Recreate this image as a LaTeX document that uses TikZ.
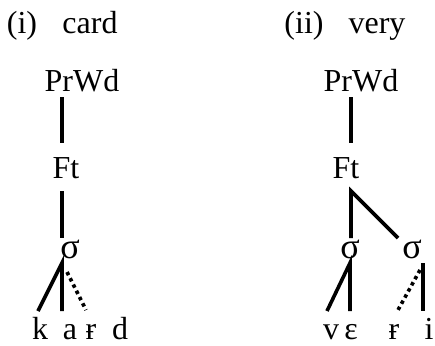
\documentclass[tikz,border=0pt]{standalone}
\usepackage{fontspec}
\setmainfont{Liberation Serif}
\begin{document}
\begin{tikzpicture}[x=1pt,y=-1pt,
  lbl/.style={anchor=base,inner sep=0pt,font=\fontsize{32}{38}\selectfont},
  sig/.style={anchor=base,inner sep=0pt,font=\fontsize{36}{40}\selectfont},
  br/.style={line width=3.6pt},
  dt/.style={line width=3.6pt,dash pattern=on 3.5pt off 3.5pt}]
\useasboundingbox (0,0) rectangle (435,345);
% ---- left tree (i) card
\node[lbl] (numA) at (22,34) {(i)};
\node[lbl] (wordA) at (90,34) {card};
\node[lbl] (prA) at (82,91) {PrWd};
\node[lbl] (ftA) at (66,178) {Ft};
\node[sig] (sgA) at (70,258) {σ};
\node[lbl] (kA) at (40,339) {k};
\node[lbl] (aA) at (70,339) {a};
\node[lbl] (rA) at (91,339) {ɍ};
\node[lbl] (dA) at (120,339) {d};
\coordinate (prAb) at (62,97);
\coordinate (ftAt) at (62,143);
\coordinate (ftAb) at (62,191);
\coordinate (sgAt) at (62,238);
\coordinate (sgAb) at (62,263);
\coordinate (kAt) at (38,311);
\coordinate (aAt) at (62,311);
\coordinate (rAs) at (67,272);
\coordinate (rAt) at (86,310);
\draw[br] (prAb) -- (ftAt);
\draw[br] (ftAb) -- (sgAt);
\draw[br] (kAt) -- (sgAb) -- (aAt);
\draw[dt] (rAs) -- (rAt);
% ---- right tree (ii) very
\node[lbl] (numB) at (304,34) {(ii)};
\node[lbl] (wordB) at (377,34) {very};
\node[lbl] (prB) at (361,91) {PrWd};
\node[lbl] (ftB) at (346,178) {Ft};
\node[sig] (sgB) at (350,258) {σ};
\node[sig] (sgC) at (412,258) {σ};
\node[lbl] (vB) at (331,339) {v};
\node[lbl] (eB) at (351,339) {ɛ};
\node[lbl] (rB) at (394,339) {ɍ};
\node[lbl] (iB) at (429,339) {i};
\coordinate (prBb) at (351,97);
\coordinate (ftBt) at (351,143);
\coordinate (ftBb) at (351,191);
\coordinate (sgBt) at (351,238);
\coordinate (sgCt) at (398,238);
\coordinate (sgBb) at (350,263);
\coordinate (vBt) at (327,311);
\coordinate (eBt) at (350,311);
\coordinate (sgCb) at (423,263);
\coordinate (iBt) at (423,311);
\coordinate (rBs) at (420,270);
\coordinate (rBt) at (398,310);
\draw[br] (prBb) -- (ftBt);
\draw[br] (sgBt) -- (ftBb) -- (sgCt);
\draw[br] (vBt) -- (sgBb) -- (eBt);
\draw[br] (sgCb) -- (iBt);
\draw[dt] (rBs) -- (rBt);
\end{tikzpicture}
\end{document}
